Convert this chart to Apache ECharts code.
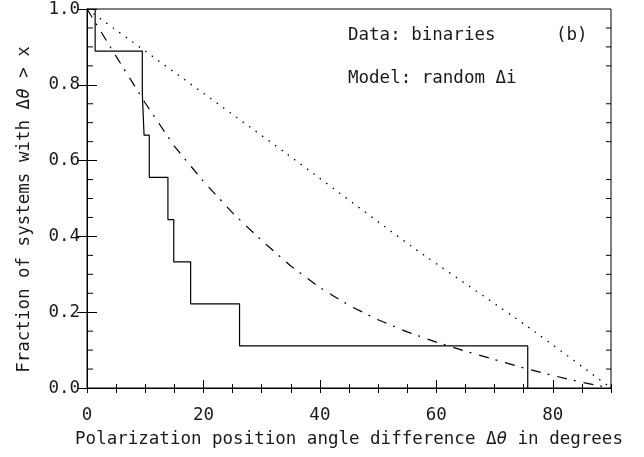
<!DOCTYPE html>
<html><head><meta charset="utf-8">
<script src="https://cdn.jsdelivr.net/npm/echarts@6/dist/echarts.min.js"></script>
<style>html,body{margin:0;padding:0;background:#fff}#c{width:644px;height:457px}</style>
</head><body><div id="c"></div>
<script>
// Observed cumulative fraction (step function): Δθ where each step occurs, and fraction after it
const stepTheta = [0, 1.4, 9.5, 9.8, 10.7, 13.9, 14.9, 17.8, 26.2, 75.7];
const stepFrac  = [1.0, 0.889, 0.778, 0.667, 0.556, 0.444, 0.333, 0.222, 0.111, 0.0];
// Dotted reference curve
const dottedTheta = [0, 34.3, 56.0, 75.5, 90];
const dottedFrac  = [1.0, 0.618, 0.371, 0.164, 0.0];
// Dash-dot model curve (random Δi)
const modelTheta = [0, 5, 10, 15, 20, 25, 30, 35, 40, 45, 50, 55, 60, 65, 70, 75, 80, 85, 90];
const modelFrac  = [1.0, 0.875, 0.752, 0.638, 0.545, 0.462, 0.389, 0.322, 0.265, 0.218, 0.180, 0.148, 0.121, 0.097, 0.075, 0.053, 0.033, 0.015, 0.0];
const xTicks = [0, 20, 40, 60, 80];
const yTicks = [0.0, 0.2, 0.4, 0.6, 0.8, 1.0];
const yMinorTicks = [0.05, 0.1, 0.15, 0.25, 0.3, 0.35, 0.45, 0.5, 0.55, 0.65, 0.7, 0.75, 0.85, 0.9, 0.95];

const FONT = 'DejaVu Sans Mono';
const FS = 17.5;
const TXT = '#1a1a1a';
const zip = (a, b) => a.map((v, i) => [v, b[i]]);

const chart = echarts.init(document.getElementById('c'), null, {renderer: 'canvas'});
const blackLine = {show: true, lineStyle: {color: '#000', width: 1}};
const tick = (len) => ({show: true, inside: true, length: len, lineStyle: {color: '#000', width: 1}});
const richI = {i: {fontStyle: 'italic', fontSize: FS, fontFamily: FONT, color: TXT}};
const box = {left: 87, right: 33, top: 3, bottom: 69};
chart.setOption({
  animation: false,
  backgroundColor: '#fff',
  grid: [
    Object.assign({show: true, borderColor: '#000', borderWidth: 1, backgroundColor: 'transparent'}, box),
    Object.assign({}, box)
  ],
  xAxis: [
    {
      gridIndex: 0, type: 'value', position: 'bottom', min: 0, max: 90, interval: 20,
      axisLine: blackLine, axisTick: tick(8),
      axisLabel: {show: true, showMaxLabel: false, margin: 18, fontSize: FS, fontFamily: FONT, color: TXT,
        formatter: v => xTicks.includes(v) ? String(v) : ''},
      splitLine: {show: false},
      name: 'Polarization position angle difference Δ{i|θ} in degrees',
      nameLocation: 'middle', nameGap: 42,
      nameTextStyle: {fontSize: FS, fontFamily: FONT, color: TXT, rich: richI}
    },
    {
      gridIndex: 0, type: 'value', position: 'top', min: 0, max: 90, interval: 5,
      axisLine: blackLine, axisTick: tick(5),
      axisLabel: {show: false}, splitLine: {show: false}
    },
    {
      gridIndex: 1, type: 'value', position: 'bottom', min: 0, max: 90, interval: 5,
      axisLine: blackLine, axisTick: tick(4),
      axisLabel: {show: false}, splitLine: {show: false}
    }
  ],
  yAxis: [
    {
      gridIndex: 0, type: 'value', position: 'left', min: 0, max: 1, interval: 0.2,
      axisLine: blackLine, axisTick: tick(10),
      axisLabel: {show: true, margin: 7, fontSize: FS, fontFamily: FONT, color: TXT,
        formatter: v => yTicks.some(t => Math.abs(t - v) < 1e-9) ? v.toFixed(1) : ''},
      splitLine: {show: false},
      name: 'Fraction of systems with Δ{i|θ} > x',
      nameLocation: 'middle', nameGap: 54, nameRotate: 90,
      nameTextStyle: {fontSize: FS, fontFamily: FONT, color: TXT, rich: richI, padding: [0, 22, 0, 0]}
    },
    {
      gridIndex: 0, type: 'value', position: 'right', min: 0, max: 1, interval: 0.2,
      axisLine: blackLine, axisTick: tick(10),
      axisLabel: {show: false}, splitLine: {show: false}
    },
    {gridIndex: 1, type: 'value', min: 0, max: 1, show: false}
  ],
  graphic: [
    {type: 'text', left: 348, top: 26, style: {text: 'Data: binaries', fontSize: FS, fontFamily: FONT, fill: TXT}},
    {type: 'text', left: 556, top: 26, style: {text: '(b)', fontSize: FS, fontFamily: FONT, fill: TXT}},
    {type: 'text', left: 348, top: 69, style: {text: 'Model: random Δi', fontSize: FS, fontFamily: FONT, fill: TXT}}
  ],
  series: [
    {
      // minor ticks on the left and right frame, placed through the y scale
      type: 'custom', xAxisIndex: 0, yAxisIndex: 0, clip: false, silent: true,
      data: yMinorTicks.map(v => [0, v]),
      renderItem: (params, api) => {
        const v = api.value(1);
        const a = api.coord([0, v]);
        const b = api.coord([90, v]);
        const st = {stroke: '#000', lineWidth: 1, fill: null};
        return {type: 'group', children: [
          {type: 'line', shape: {x1: a[0], y1: a[1], x2: a[0] + 6, y2: a[1]}, style: st},
          {type: 'line', shape: {x1: b[0] - 5, y1: b[1], x2: b[0], y2: b[1]}, style: st}
        ]};
      }
    },
    {
      type: 'line', xAxisIndex: 0, yAxisIndex: 0, step: 'end', symbol: 'none',
      data: zip(stepTheta, stepFrac),
      lineStyle: {color: '#000', width: 1.2}
    },
    {
      type: 'line', xAxisIndex: 0, yAxisIndex: 0, symbol: 'none',
      data: zip(dottedTheta, dottedFrac), smooth: 0.2,
      lineStyle: {color: '#000', width: 1.3, type: [1.5, 6.5]}
    },
    {
      type: 'line', xAxisIndex: 0, yAxisIndex: 0, symbol: 'none',
      data: zip(modelTheta, modelFrac), smooth: false,
      lineStyle: {color: '#000', width: 1.2, type: [10, 7, 2, 8]}
    }
  ]
});
</script>
</body></html>
